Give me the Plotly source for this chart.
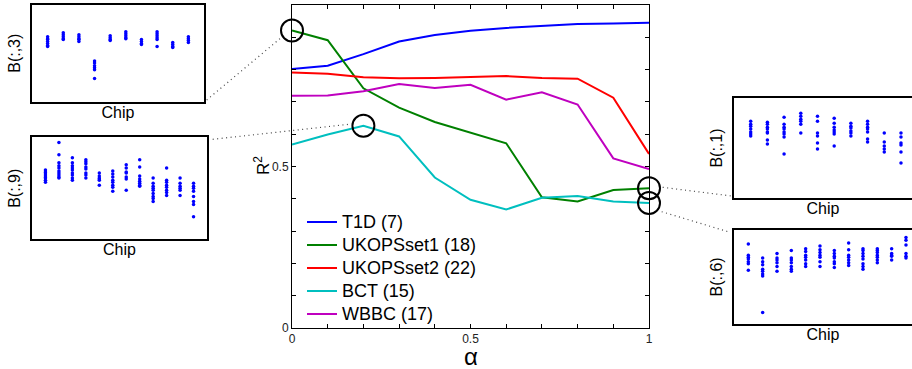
import plotly.graph_objects as go

W, H = 912, 369

# ---------------- main chart data ----------------
alpha = [0, 0.1, 0.2, 0.3, 0.4, 0.5, 0.6, 0.7, 0.8, 0.9, 1.0]
series_names = ["T1D (7)", "UKOPSset1 (18)", "UKOPSset2 (22)", "BCT (15)", "WBBC (17)"]
t1d = [0.802, 0.812, 0.848, 0.887, 0.907, 0.920, 0.929, 0.936, 0.941, 0.943, 0.945]
ukops1 = [0.921, 0.891, 0.742, 0.682, 0.638, 0.605, 0.572, 0.405, 0.392, 0.427, 0.433]
ukops2 = [0.791, 0.787, 0.776, 0.773, 0.774, 0.778, 0.780, 0.774, 0.772, 0.713, 0.539]
bct = [0.568, 0.599, 0.626, 0.593, 0.466, 0.397, 0.367, 0.403, 0.409, 0.392, 0.387]
wbbc = [0.719, 0.720, 0.733, 0.755, 0.743, 0.753, 0.707, 0.730, 0.692, 0.525, 0.492]
series_values = [t1d, ukops1, ukops2, bct, wbbc]
series_colors = ["#0000FF", "#008000", "#FF0000", "#00BFBF", "#BF00BF"]

# highlighted points (series index, alpha index)
highlights = [(1, 0), (3, 2), (1, 10), (3, 10)]

main_yticks = [0, 0.1, 0.2, 0.3, 0.4, 0.5, 0.6, 0.7, 0.8, 0.9, 1.0]
main_ytext = ["0", "", "", "", "", "0.5", "", "", "", "", "1"]
main_xticks = [0, 0.1, 0.2, 0.3, 0.4, 0.5, 0.6, 0.7, 0.8, 0.9, 1.0]
main_xtext = ["0", "", "", "", "", "0.5", "", "", "", "", "1"]

# ---------------- inset data (per chip) ----------------
b3 = [
    [.67, .65, .64, .62, .60, .58, .57],
    [.71, .69, .67, .65, .64],
    [.69, .67, .65, .64, .62],
    [.42, .40, .37, .35, .33, .24],
    [.68, .66, .64, .63],
    [.72, .70, .68, .66, .65],
    [.64, .62, .60, .59],
    [.72, .70, .68, .66, .64, .57],
    [.61, .59, .57, .56],
    [.67, .65, .63, .61],
]
b9 = [
    [.68, .66, .65, .63, .61, .60, .58, .56],
    [.95, .83, .75, .72, .70, .67, .65, .63, .61, .60],
    [.80, .75, .72, .70, .68, .65, .63, .60, .58],
    [.78, .76, .74, .71, .69, .65, .63, .60],
    [.65, .62, .60, .59, .58, .53],
    [.67, .64, .61, .58, .56, .53, .51, .47],
    [.73, .70, .66, .65, .61, .59, .48],
    [.78, .71, .62, .59, .57, .55, .53, .52],
    [.60, .55, .52, .50, .48, .45, .42, .40, .37],
    [.70, .58, .56, .53, .51, .48, .46, .43],
    [.60, .55, .52, .50, .48, .43],
    [.55, .52, .50, .47, .42, .37, .34, .22],
]
b1 = [
    [.77, .74, .72, .69, .66, .64, .62],
    [.76, .74, .71, .69, .66, .65, .58, .54],
    [.81, .74, .71, .69, .66, .64, .61, .44],
    [.85, .82, .79, .77, .74, .65],
    [.82, .77, .65, .62, .55, .49],
    [.80, .75, .71, .68, .66, .64, .52],
    [.75, .72, .70, .67, .65, .62],
    [.77, .74, .71, .69, .66, .59, .56],
    [.65, .56, .52, .49, .46],
    [.65, .61, .55, .53, .46, .35],
]
b6 = [
    [.85, .73, .71, .69, .66, .64, .57],
    [.70, .66, .63, .58, .56, .53, .51, .12],
    [.75, .70, .68, .65, .61, .56],
    [.78, .70, .68, .65, .61, .58, .56],
    [.80, .77, .73, .71, .68, .64, .61],
    [.83, .79, .76, .73, .71, .66, .61],
    [.78, .75, .72, .70, .66, .64, .60],
    [.86, .79, .73, .71, .68, .65, .62],
    [.80, .78, .75, .72, .69, .64, .61, .58],
    [.80, .78, .76, .73, .71, .68, .65],
    [.80, .75, .73, .72, .68],
    [.92, .89, .84, .75, .72, .70],
]

FONT = "Liberation Sans, Arial, sans-serif"

fig = go.Figure()

# main lines
for name, vals, col in zip(series_names, series_values, series_colors):
    fig.add_trace(go.Scatter(x=alpha, y=vals, mode="lines",
                             name='<span style="font-size:18px">' + name + '</span>',
                             line=dict(color=col, width=2), cliponaxis=False,
                             xaxis="x", yaxis="y"))

# circles around highlighted points
fig.add_trace(go.Scatter(
    x=[alpha[j] for i, j in highlights],
    y=[series_values[i][j] for i, j in highlights],
    mode="markers", showlegend=False, cliponaxis=False,
    marker=dict(symbol="circle-open", size=22, color="black", line=dict(width=2)),
    xaxis="x", yaxis="y"))

# insets
insets = [
    # data, label, axis suffix, x-domain px, y-domain px (top, bottom), x range
    (b3, "B(:,3)", "2", (32, 204), (4.7, 101.7), (0, 11)),
    (b9, "B(:,9)", "3", (32, 207), (137.3, 239.3), (0, 13)),
    (b1, "B(:,1)", "4", (734, 912), (98.3, 197.7), (0, 10.66)),
    (b6, "B(:,6)", "5", (734, 912), (230, 323.7), (0, 12.42)),
]

layout_axes = {}
for data, label, sfx, xd, yd, xr in insets:
    xs, ys = [], []
    for c, col in enumerate(data, start=1):
        xs += [c] * len(col)
        ys += col
    fig.add_trace(go.Scatter(x=xs, y=ys, mode="markers", showlegend=False,
                             marker=dict(color="#0000FF", size=3.5),
                             xaxis="x" + sfx, yaxis="y" + sfx))
    right_open = xd[1] >= W
    layout_axes["xaxis" + sfx] = dict(
        domain=[xd[0] / W, xd[1] / W], range=list(xr), showgrid=False,
        zeroline=False, showticklabels=False, ticks="", showline=True,
        linecolor="black", linewidth=1.5, mirror=True, anchor="y" + sfx,
        automargin=False,
        title=dict(text="Chip", font=dict(size=16, color="black", family=FONT), standoff=4))
    layout_axes["yaxis" + sfx] = dict(
        domain=[1 - yd[1] / H, 1 - yd[0] / H], range=[0, 1], showgrid=False,
        zeroline=False, showticklabels=False, ticks="", showline=True,
        linecolor="black", linewidth=1.5, mirror=not right_open, anchor="x" + sfx,
        automargin=False,
        title=dict(text=label, font=dict(size=16, color="black", family=FONT), standoff=6))

# dotted connector lines (paper coords, px)
connectors = [
    ((206.7, 100.0), (282.3, 36.7)),
    ((212.7, 139.3), (351.7, 124.0)),
    ((662.7, 187.3), (731.7, 196.0)),
    ((661.7, 211.7), (730.0, 232.3)),
]
shapes = []
for (xa, ya), (xb, yb) in connectors:
    shapes.append(dict(type="line", xref="paper", yref="paper",
                       x0=xa / W, y0=1 - ya / H, x1=xb / W, y1=1 - yb / H,
                       line=dict(color="#444444", width=1.2, dash="1px,3.5px")))

# main axis titles as annotations (precise placement)
annotations = [
    dict(text="α", xref="paper", yref="paper", x=470.5 / W, y=1 - 356 / H,
         xanchor="center", yanchor="middle", showarrow=False,
         font=dict(size=24, family=FONT, color="black")),
    dict(text="R<sup>2</sup>", xref="paper", yref="paper", x=262 / W, y=1 - 166 / H,
         xanchor="center", yanchor="middle", showarrow=False, textangle=-90,
         font=dict(size=17, family=FONT, color="black")),
]

fig.update_layout(
    width=W, height=H, margin=dict(l=0, r=0, t=0, b=0, autoexpand=False),
    paper_bgcolor="white", plot_bgcolor="white",
    font=dict(family=FONT, color="black"),
    showlegend=True,
    legend=dict(x=302 / W, y=1 - 205.5 / H, xanchor="left", yanchor="top",
                bgcolor="rgba(0,0,0,0)", font=dict(size=15.4, family=FONT, color="black"),
                tracegroupgap=0),
    xaxis=dict(domain=[292 / W, 649 / W], range=[0, 1], tickvals=main_xticks,
               ticktext=main_xtext, ticks="inside", ticklen=4, tickcolor="black",
               showline=True, linecolor="black", linewidth=1, mirror="allticks",
               showgrid=False, zeroline=False, tickfont=dict(size=12, color="#222"),
               automargin=False, anchor="y"),
    yaxis=dict(domain=[1 - 328 / H, 1 - 5 / H], range=[0, 1], tickvals=main_yticks,
               ticktext=main_ytext, ticks="inside", ticklen=4, tickcolor="black",
               showline=True, linecolor="black", linewidth=1, mirror="allticks",
               showgrid=False, zeroline=False, tickfont=dict(size=12, color="#222"),
               automargin=False, anchor="x"),
    shapes=shapes,
    annotations=annotations,
    **layout_axes,
)

fig.write_html("out.html", config={"displayModeBar": False},
               post_script="document.body.style.margin='0';document.body.style.padding='0';")
